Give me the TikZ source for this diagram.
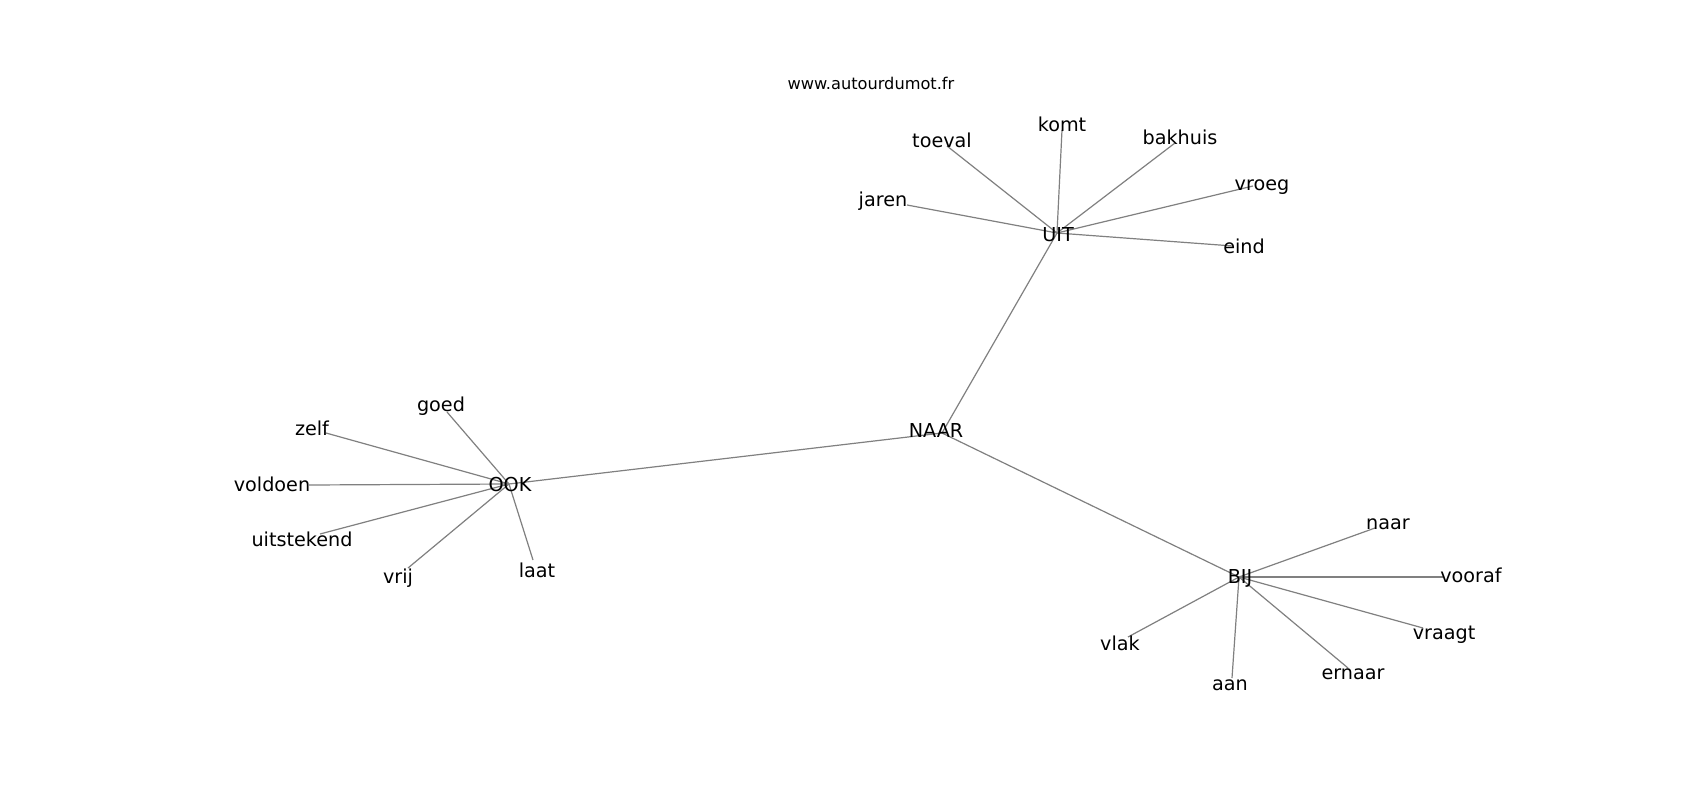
\documentclass[tikz,border=0pt]{standalone}
\usepackage{fontspec}
\setmainfont{DejaVu Sans}
\begin{document}
\begin{tikzpicture}[x=1pt,y=-1pt,
  lbl/.style={inner sep=0pt, anchor=base, font=\fontsize{19.2}{23}\selectfont},
  wsite/.style={inner sep=0pt, anchor=base, font=\fontsize{16.2}{19}\selectfont},
  edge/.style={draw=black!50, line width=1.2pt}]
\useasboundingbox[fill=white] (0,0) rectangle (1700,800);
% node positions (line ends)
\coordinate (p-UIT) at (1057,233);
\coordinate (p-NAAR) at (942,433);
\coordinate (p-OOK) at (509,484);
\coordinate (p-BIJ) at (1239,577);
\coordinate (p-jaren) at (907,205);
\coordinate (p-toeval) at (947,146);
\coordinate (p-komt) at (1062,130);
\coordinate (p-bakhuis) at (1175,143);
\coordinate (p-vroeg) at (1253,186);
\coordinate (p-eind) at (1233,246);
\coordinate (p-goed) at (447,412);
\coordinate (p-zelf) at (326,433);
\coordinate (p-voldoen) at (309,485);
\coordinate (p-uitstekend) at (320,534);
\coordinate (p-vrij) at (408,568);
\coordinate (p-laat) at (533,560);
\coordinate (p-naar) at (1375,528);
\coordinate (p-vooraf) at (1443,577);
\coordinate (p-vraagt) at (1423,628);
\coordinate (p-ernaar) at (1348,668);
\coordinate (p-aan) at (1232,678);
\coordinate (p-vlak) at (1128,637);
% connectors
\draw[edge] (p-NAAR) -- (p-UIT);
\draw[edge] (p-NAAR) -- (p-OOK);
\draw[edge] (p-NAAR) -- (p-BIJ);
\foreach \w in {jaren,toeval,komt,bakhuis,vroeg,eind}
  \draw[edge] (p-UIT) -- (p-\w);
\foreach \w in {goed,zelf,voldoen,uitstekend,vrij,laat}
  \draw[edge] (p-OOK) -- (p-\w);
\foreach \w in {naar,vooraf,vraagt,ernaar,aan,vlak}
  \draw[edge] (p-BIJ) -- (p-\w);
% labels
\node[wsite] (site) at (871,89) {www.autourdumot.fr};
\node[lbl] (UIT) at (1058,241) {UIT};
\node[lbl] (NAAR) at (936,437) {NAAR};
\node[lbl] (OOK) at (510,491) {OOK};
\node[lbl] (BIJ) at (1240,583) {BIJ};
\node[lbl] (jaren) at (883,206) {jaren};
\node[lbl] (toeval) at (942,147) {toeval};
\node[lbl] (komt) at (1062,131) {komt};
\node[lbl] (bakhuis) at (1180,144) {bakhuis};
\node[lbl] (vroeg) at (1262,190) {vroeg};
\node[lbl] (eind) at (1244,253) {eind};
\node[lbl] (goed) at (441,411) {goed};
\node[lbl] (zelf) at (312,435) {zelf};
\node[lbl] (voldoen) at (272,491) {voldoen};
\node[lbl] (uitstekend) at (302,546) {uitstekend};
\node[lbl] (vrij) at (398,583) {vrij};
\node[lbl] (laat) at (537,577) {laat};
\node[lbl] (naar) at (1388,529) {naar};
\node[lbl] (vooraf) at (1471,582) {vooraf};
\node[lbl] (vraagt) at (1444,639) {vraagt};
\node[lbl] (ernaar) at (1353,679) {ernaar};
\node[lbl] (aan) at (1230,690) {aan};
\node[lbl] (vlak) at (1120,650) {vlak};
\end{tikzpicture}
\end{document}
